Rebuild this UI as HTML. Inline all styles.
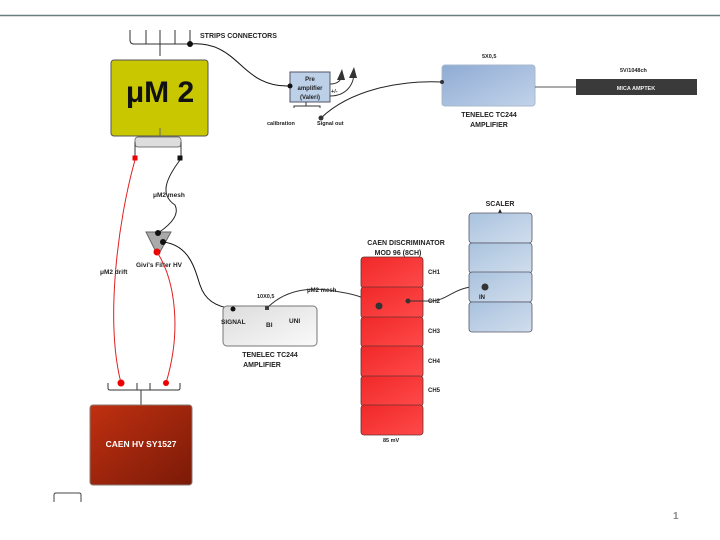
<!DOCTYPE html>
<html><head><meta charset="utf-8"><style>
html,body{margin:0;padding:0;background:#fff;width:720px;height:540px;overflow:hidden}
text{font-family:"Liberation Sans",sans-serif;font-weight:bold;fill:#222}
</style></head><body>
<svg width="720" height="540" viewBox="0 0 720 540" xmlns="http://www.w3.org/2000/svg">
<defs>
<linearGradient id="bl" x1="0" y1="0" x2="1" y2="1"><stop offset="0" stop-color="#8fabd3"/><stop offset="1" stop-color="#c2d3ea"/></linearGradient>
<linearGradient id="sc" x1="0" y1="0" x2="1" y2="1"><stop offset="0" stop-color="#a9c2de"/><stop offset="1" stop-color="#d1deed"/></linearGradient>
<linearGradient id="hv" x1="0" y1="0" x2="1" y2="1"><stop offset="0" stop-color="#c03010"/><stop offset="1" stop-color="#7a1a08"/></linearGradient>
<linearGradient id="rd" x1="0" y1="0" x2="1" y2="1"><stop offset="0" stop-color="#f02828"/><stop offset="1" stop-color="#ff4a4a"/></linearGradient>
<linearGradient id="gr" x1="0" y1="0" x2="1" y2="1"><stop offset="0" stop-color="#dcdcdc"/><stop offset="1" stop-color="#fafafa"/></linearGradient>
</defs>
<line x1="0" y1="15.5" x2="720" y2="15.5" stroke="#6a7e7e" stroke-width="1.5"/>

<!-- strips connectors comb -->
<g stroke="#333" stroke-width="1" fill="none">
<path d="M130 30 V40 Q130 44 134 44 H190 V30"/>
<line x1="146" y1="30" x2="146" y2="44"/><line x1="160" y1="30" x2="160" y2="56"/>
<line x1="175" y1="30" x2="175" y2="44"/>
<path d="M190 44 C240 40 240 88 290 86" stroke="#111"/>
</g>
<circle cx="190" cy="44" r="3" fill="#111"/>
<text x="200" y="38" font-size="7">STRIPS CONNECTORS</text>

<!-- uM2 -->
<rect x="111" y="60" width="97" height="76" rx="3" fill="#c9c800" stroke="#555"/>
<text x="160" y="102" font-size="30" text-anchor="middle" fill="#111" style="fill:#111">μM 2</text>
<line x1="160" y1="128" x2="160" y2="137" stroke="#666"/>
<rect x="135" y="137" width="46" height="10" rx="3" fill="#ddd" stroke="#777"/>
<path d="M135 142 V158 M181 142 V158" stroke="#333" fill="none"/>
<rect x="132.5" y="155.5" width="5" height="5" fill="#e00"/>
<rect x="177.5" y="155.5" width="5" height="5" fill="#111"/>

<!-- drift red line -->
<path d="M135 160 C118 220 105 320 121 383" stroke="#e02020" fill="none"/>
<text x="100" y="274" font-size="6.5" font-weight="normal">μM2 drift</text>
<!-- mesh black -->
<path d="M180 160 C165 180 160 195 175 205 C180 215 170 225 158 233" stroke="#222" fill="none"/>
<text x="153" y="197" font-size="6.5">μM2 mesh</text>

<!-- filter -->
<path d="M146 232 H171 L160 252 H156 Z" fill="#aaa" stroke="#666"/>
<circle cx="158" cy="233" r="3" fill="#111"/>
<circle cx="163" cy="242" r="3" fill="#111"/>
<circle cx="157" cy="252" r="3.5" fill="#e00"/>
<text x="136" y="267" font-size="6.5">Givi's Filter HV</text>
<path d="M157 252 C175 280 182 330 166 383" stroke="#e02020" fill="none"/>
<path d="M163 242 C190 245 195 270 200 285 C205 300 215 306 232 309" stroke="#111" fill="none"/>

<!-- HV comb -->
<g stroke="#333" fill="none">
<path d="M108 383 V388 Q108 390 110 390 H178 Q180 390 180 388 V383"/>
<line x1="137" y1="383" x2="137" y2="390"/><line x1="150" y1="383" x2="150" y2="390"/>
<line x1="141" y1="390" x2="141" y2="405"/>
</g>
<circle cx="121" cy="383" r="3.5" fill="#e00"/><circle cx="166" cy="383" r="3" fill="#e00"/>
<rect x="90" y="405" width="102" height="80" rx="3" fill="url(#hv)" stroke="#8a7a75"/>
<text x="141" y="447" font-size="8.5" text-anchor="middle" style="fill:#fff">CAEN HV SY1527</text>
<path d="M54 502 V495 Q54 493 56 493 H79 Q81 493 81 495 V502" stroke="#444" fill="none"/>

<!-- preamp -->
<rect x="290" y="72" width="40" height="30" fill="#bcd0e8" stroke="#556"/>
<text x="310" y="81" font-size="6" text-anchor="middle">Pre</text>
<text x="310" y="90" font-size="6" text-anchor="middle">amplifier</text>
<text x="310" y="99" font-size="6" text-anchor="middle">(Valeri)</text>
<circle cx="290" cy="86" r="2.5" fill="#111"/>
<g stroke="#333" fill="none">
<path d="M330 84 C338 84 342 80 342 74"/>
<path d="M330 96 C345 96 354 86 354 72"/>
<path d="M294 108 V106 H320 V108 M306 106 V102"/>
<path d="M321 118 C350 90 400 80 442 82" stroke="#222"/>
</g>
<path d="M337 80 L342 69 L345 80 Z M349 78 L354 67 L357 78 Z" fill="#333"/>
<text x="331" y="93" font-size="5.5" font-weight="normal">+/-</text>
<circle cx="321" cy="118" r="2.5" fill="#333"/>
<text x="267" y="125" font-size="5.5">calibration</text>
<text x="317" y="125" font-size="5.5">Signal out</text>

<!-- top tenelec -->
<rect x="442" y="65" width="93" height="41" rx="3" fill="url(#bl)" stroke="#a8b8cc"/>
<circle cx="442" cy="82" r="2" fill="#333"/>
<text x="482" y="58" font-size="5.5" font-weight="normal">5X0,5</text>
<text x="489" y="117" font-size="7" text-anchor="middle">TENELEC TC244</text>
<text x="489" y="127" font-size="7" text-anchor="middle">AMPLIFIER</text>
<line x1="535" y1="87" x2="576" y2="87" stroke="#555"/>
<rect x="576" y="79" width="121" height="16" fill="#3a3a3a"/>
<text x="636" y="90" font-size="5.5" text-anchor="middle" font-weight="normal" style="fill:#eee">MICA AMPTEK</text>
<text x="620" y="72" font-size="5.5" font-weight="normal">5V/1048ch</text>

<!-- bottom tenelec -->
<rect x="223" y="306" width="94" height="40" rx="4" fill="url(#gr)" stroke="#777"/>
<circle cx="233" cy="309" r="2.5" fill="#111"/>
<rect x="265" y="306" width="4" height="4" fill="#444"/>
<text x="221" y="324" font-size="6.5">SIGNAL</text>
<text x="266" y="327" font-size="6.5">BI</text>
<text x="289" y="323" font-size="6.5">UNI</text>
<text x="257" y="298" font-size="5.5" font-weight="normal">10X0,5</text>
<text x="270" y="357" font-size="7" text-anchor="middle">TENELEC TC244</text>
<text x="262" y="367" font-size="7" text-anchor="middle">AMPLIFIER</text>
<path d="M267 308 C290 285 320 288 340 292 C360 295 368 300 378 305" stroke="#333" fill="none"/>
<text x="307" y="292" font-size="6" font-weight="normal">μM2 mesh</text>

<!-- discriminator -->
<text x="406" y="245" font-size="7" text-anchor="middle">CAEN DISCRIMINATOR</text>
<text x="398" y="255" font-size="7" text-anchor="middle">MOD 96 (8CH)</text>
<g fill="url(#rd)" stroke="#6a3030" stroke-width="0.8">
<rect x="361" y="257" width="62" height="31" rx="3"/>
<rect x="361" y="287" width="62" height="31" rx="3"/>
<rect x="361" y="317" width="62" height="30" rx="3"/>
<rect x="361" y="346" width="62" height="31" rx="3"/>
<rect x="361" y="376" width="62" height="30" rx="3"/>
<rect x="361" y="405" width="62" height="30" rx="3"/>
</g>
<circle cx="379" cy="306" r="3.5" fill="#333"/>
<circle cx="408" cy="301" r="2.5" fill="#333"/>
<g font-size="6" font-weight="normal">
<text x="428" y="274">CH1</text><text x="428" y="303">CH2</text><text x="428" y="333">CH3</text><text x="428" y="363">CH4</text><text x="428" y="392">CH5</text>
</g>
<text x="383" y="442" font-size="5.5" font-weight="normal">85 mV</text>
<path d="M408 301 H432 C450 300 455 284 485 287" stroke="#333" fill="none"/>

<!-- scaler -->
<text x="500" y="206" font-size="7" text-anchor="middle">SCALER</text>
<path d="M498 213 L500 209 L502 213 Z" fill="#222"/>
<g fill="url(#sc)" stroke="#556" stroke-width="0.8">
<rect x="469" y="213" width="63" height="30" rx="3"/>
<rect x="469" y="243" width="63" height="30" rx="3"/>
<rect x="469" y="272" width="63" height="30" rx="3"/>
<rect x="469" y="302" width="63" height="30" rx="3"/>
</g>
<circle cx="485" cy="287" r="3.5" fill="#333"/>
<text x="479" y="299" font-size="6">IN</text>

<text x="673" y="519" font-size="10" font-weight="normal" style="fill:#888">1</text>
</svg>
</body></html>
